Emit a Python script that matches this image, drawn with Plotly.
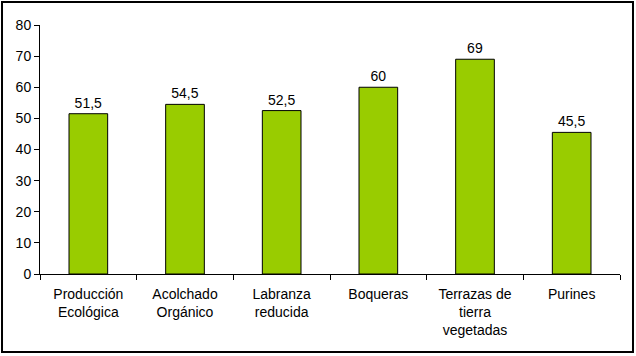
import plotly.graph_objects as go

categories = ["Producción<br>Ecológica", "Acolchado<br>Orgánico", "Labranza<br>reducida",
              "Boqueras", "Terrazas de<br>tierra<br>vegetadas", "Purines"]
values = [51.5, 54.5, 52.5, 60, 69, 45.5]
y_ticks = [0, 10, 20, 30, 40, 50, 60, 70, 80]

labels = [(f"{v:g}").replace(".", ",") for v in values]

fig = go.Figure(go.Bar(
    x=categories, y=values,
    marker=dict(color="#99CC00", line=dict(color="#000000", width=1)),
    width=0.4,
    text=labels, textposition="outside", cliponaxis=False,
    textfont=dict(family="Liberation Sans, Arial", size=14, color="#000000"),
))

fig.update_layout(
    width=636, height=356,
    margin=dict(l=40, r=16, t=25, b=82),
    paper_bgcolor="white", plot_bgcolor="white",
    font=dict(family="Liberation Sans, Arial", size=14, color="#000000"),
    showlegend=False,
    xaxis=dict(showline=True, linecolor="#000000", linewidth=1, ticks="outside",
               tickson="boundaries", ticklen=5, tickcolor="#000000", showgrid=False,
               tickfont=dict(size=14), automargin=False, ticklabelstandoff=7),
    yaxis=dict(range=[0, 80], tickvals=y_ticks, showline=True, linecolor="#000000",
               linewidth=1, ticks="outside", ticklen=5, tickcolor="#000000",
               showgrid=False, zeroline=False, tickfont=dict(size=14), automargin=False),
    shapes=[dict(type="rect", xref="paper", yref="paper",
                 x0=-0.0655, x1=1.0224, y0=-0.3133, y1=1.0924,
                 line=dict(color="#000000", width=2), layer="below")],
)

fig.write_html("out.html", config={"displayModeBar": False},
               post_script="document.body.style.margin='0';document.body.style.overflow='hidden';")
